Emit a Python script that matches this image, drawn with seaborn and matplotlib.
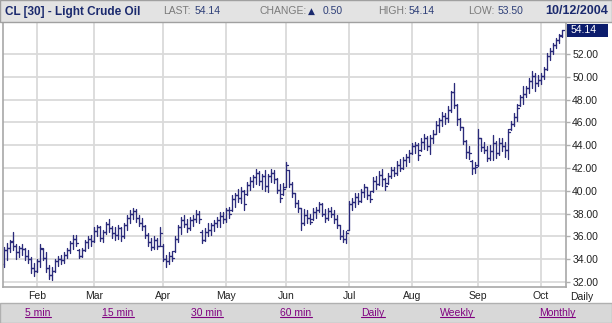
import numpy as np
import pandas as pd
import matplotlib
matplotlib.use("Agg")
import matplotlib.pyplot as plt
import seaborn as sns
from matplotlib.patches import Rectangle
from matplotlib.lines import Line2D

# ---------------- data (daily OHLC, mid-Jan .. 12 Oct 2004) ----------------
opens = [
    33.6, 34.8, 35.0, 35.6, 35.2, 34.6, 35.0, 34.9, 34.3, 34.0, 33.2,
    33.0, 33.8, 34.9, 34.1, 33.2, 32.6, 33.0, 33.8, 34.0, 33.9, 34.4, 34.8, 35.4, 35.8, 34.8, 34.3, 34.8, 35.5, 35.8,
    35.6, 36.5, 36.8, 35.9, 36.4, 37.1, 36.7, 36.3, 36.1, 36.7, 36.0, 37.0, 37.6, 38.0, 38.2, 37.6, 37.2, 36.9, 36.1, 35.5, 35.1, 35.7, 35.2,
    35.2, 34.0, 33.8, 34.3, 34.7, 35.8, 36.8, 37.4, 37.1, 36.7, 37.4, 37.5, 38.0, 36.4, 35.7, 36.4, 36.6, 37.0, 37.2, 37.4, 37.8,
    37.5, 38.3, 38.3, 39.3, 39.6, 39.4, 40.0, 39.7, 40.5, 40.9, 41.2, 41.6, 40.9, 41.3, 40.4, 41.3, 41.6, 41.0, 40.1, 39.7,
    40.3, 41.8, 40.6, 39.8, 38.9, 38.5, 37.2, 37.9, 37.6, 37.5, 38.1, 38.3, 38.8, 38.0, 37.6, 38.2, 38.0, 37.5, 37.0, 36.0, 35.8,
    36.6, 38.8, 39.0, 39.5, 39.1, 39.9, 40.3, 39.6, 40.0, 40.9, 40.6, 41.4, 41.0, 40.7, 41.3, 41.8, 41.6, 42.3, 42.0, 42.7, 43.0,
    43.3, 43.9, 44.0, 43.6, 44.3, 44.6, 43.9, 44.6, 45.0, 45.8, 46.2, 46.6, 46.4, 47.1, 48.7, 47.5, 46.3, 45.6, 44.4, 43.4, 42.6, 42.0,
    42.3, 44.6, 43.8, 43.6, 42.9, 43.5, 44.2, 43.3, 44.2, 43.9, 43.6, 45.4, 45.9, 46.5, 47.5, 48.2, 48.5, 49.0, 49.6, 50.1, 49.5,
    49.7, 50.1, 50.7, 51.8, 52.3, 52.8, 53.2, 53.6,
]
highs = [
    35.1, 35.4, 35.7, 36.4, 35.3, 35.2, 35.3, 35.0, 34.8, 34.2, 33.7,
    34.0, 35.3, 35.0, 34.6, 33.5, 33.3, 34.0, 34.3, 34.4, 34.6, 35.0, 35.6, 36.1, 36.1, 34.9, 35.0, 35.7, 36.0, 36.1,
    36.8, 37.0, 36.9, 36.6, 37.3, 37.5, 36.9, 36.8, 37.0, 36.8, 37.2, 37.9, 38.3, 38.5, 38.4, 37.9, 37.6, 37.0, 36.3, 35.9, 36.0, 35.9, 36.8,
    35.3, 34.4, 34.6, 34.7, 36.0, 37.0, 37.7, 37.9, 37.5, 37.7, 37.9, 38.3, 38.2, 36.6, 36.7, 37.2, 37.2, 37.4, 37.7, 38.1, 38.1,
    38.5, 38.6, 39.6, 39.8, 40.2, 40.3, 40.1, 40.8, 41.2, 41.4, 41.9, 41.7, 41.5, 41.8, 41.5, 41.9, 41.8, 41.1, 40.6, 40.7,
    42.5, 41.8, 40.8, 39.8, 39.2, 38.5, 38.4, 38.3, 38.0, 38.5, 38.6, 39.0, 38.9, 38.4, 38.5, 38.6, 38.3, 37.9, 37.0, 36.6, 36.5,
    39.1, 39.4, 39.8, 39.8, 40.2, 40.6, 40.3, 40.0, 41.2, 41.3, 41.7, 41.9, 41.1, 41.6, 42.1, 42.1, 42.6, 42.8, 43.0, 43.2, 43.6,
    44.2, 44.3, 44.2, 44.6, 45.0, 44.8, 44.9, 45.3, 46.1, 46.4, 46.9, 46.8, 47.4, 48.8, 49.5, 47.6, 46.4, 45.6, 44.5, 43.9, 42.7, 42.5,
    45.4, 44.6, 44.3, 43.9, 44.0, 44.9, 44.4, 44.6, 44.6, 44.3, 45.4, 46.1, 46.8, 47.6, 48.4, 49.2, 49.2, 49.9, 50.5, 50.3, 50.2,
    50.3, 50.9, 52.1, 52.5, 53.0, 53.4, 53.8, 54.14,
]
lows = [
    33.3, 33.9, 34.6, 34.8, 34.0, 34.2, 34.4, 33.9, 33.7, 32.8, 32.5,
    32.9, 33.3, 33.9, 32.9, 32.3, 32.2, 32.9, 33.4, 33.6, 33.7, 34.1, 34.5, 34.9, 35.2, 34.1, 34.2, 34.7, 35.0, 35.2,
    35.5, 36.0, 35.6, 35.5, 36.2, 36.4, 35.9, 35.7, 35.8, 35.6, 35.9, 36.6, 37.2, 37.5, 37.3, 36.9, 36.6, 35.9, 35.2, 34.8, 34.9, 34.9, 35.2,
    33.8, 33.3, 33.6, 33.8, 34.6, 35.5, 36.2, 36.8, 36.4, 36.6, 36.9, 37.3, 37.2, 35.4, 35.6, 36.0, 36.1, 36.5, 36.8, 36.8, 37.2,
    37.3, 37.6, 38.2, 38.6, 39.0, 38.9, 38.3, 39.6, 40.1, 40.3, 40.6, 40.5, 40.2, 40.0, 39.9, 40.8, 40.7, 39.8, 39.0, 39.6,
    40.3, 40.3, 39.5, 38.6, 38.1, 36.6, 37.0, 37.2, 37.1, 37.4, 37.6, 38.1, 37.8, 37.3, 37.4, 37.7, 37.2, 36.7, 35.8, 35.5, 35.4,
    36.6, 38.3, 38.6, 38.8, 39.0, 39.5, 39.3, 39.0, 39.9, 40.2, 40.5, 40.4, 40.1, 40.6, 41.1, 41.3, 41.4, 41.7, 41.9, 42.2, 42.5,
    43.2, 43.3, 42.7, 43.5, 43.7, 43.6, 43.2, 44.2, 45.0, 45.2, 45.7, 45.9, 46.0, 46.9, 47.3, 45.8, 45.3, 44.1, 42.9, 42.8, 41.5, 41.6,
    42.2, 43.5, 43.3, 42.6, 42.7, 42.7, 42.9, 43.1, 43.5, 43.0, 42.8, 45.3, 45.7, 46.1, 47.4, 47.6, 48.2, 48.6, 49.0, 48.8, 49.2,
    49.4, 49.8, 50.6, 51.5, 52.0, 52.5, 53.0, 53.5,
]
closes = [
    34.8, 35.0, 35.5, 35.2, 34.6, 35.0, 34.9, 34.3, 34.0, 33.2, 33.0,
    33.8, 35.0, 34.1, 33.2, 32.6, 33.0, 33.8, 34.0, 33.9, 34.4, 34.8, 35.4, 35.8, 35.4, 34.3, 34.8, 35.5, 35.8, 35.6,
    36.5, 36.8, 35.9, 36.4, 37.1, 36.7, 36.3, 36.1, 36.7, 36.0, 37.0, 37.6, 38.0, 38.2, 37.6, 37.2, 36.9, 36.1, 35.5, 35.1, 35.7, 35.2, 36.3,
    34.0, 33.8, 34.3, 34.1, 35.8, 36.8, 37.4, 37.1, 36.7, 37.4, 37.5, 38.0, 37.5, 35.7, 36.4, 36.6, 37.0, 37.2, 37.4, 37.8, 37.5,
    38.3, 38.0, 39.3, 39.6, 39.4, 40.0, 38.8, 40.5, 40.9, 41.2, 41.6, 40.9, 41.3, 40.4, 41.3, 41.6, 41.0, 40.1, 39.4, 40.2,
    42.3, 40.6, 39.8, 38.9, 38.5, 37.2, 37.9, 37.6, 37.3, 38.1, 38.3, 38.8, 38.0, 37.6, 38.2, 38.0, 37.5, 37.0, 36.0, 35.8, 36.3,
    38.8, 39.0, 39.5, 39.1, 39.9, 40.3, 39.6, 39.3, 40.9, 40.6, 41.4, 41.0, 40.4, 41.3, 41.8, 41.6, 42.3, 42.0, 42.7, 43.0, 43.3,
    43.9, 44.0, 43.1, 44.3, 44.6, 43.9, 44.6, 45.0, 45.8, 46.2, 46.6, 46.4, 47.1, 48.7, 47.5, 46.3, 45.6, 44.4, 43.4, 43.3, 42.0, 42.1,
    44.6, 43.8, 43.6, 42.9, 43.5, 44.2, 43.3, 44.2, 43.9, 43.6, 45.2, 45.9, 46.5, 47.3, 48.2, 48.5, 49.0, 49.6, 50.1, 49.5, 49.7,
    50.1, 50.7, 51.8, 52.3, 52.8, 53.2, 53.64, 54.14,
]
month_labels = ["Feb", "Mar", "Apr", "May", "Jun", "Jul", "Aug", "Sep", "Oct"]
month_starts = [11, 30, 53, 74, 94, 115, 136, 158, 179]
price_ticks = [32, 34, 36, 38, 40, 42, 44, 46, 48, 50, 52]
link_labels = ["5 min", "15 min", "30 min", "60 min", "Daily", "Weekly", "Monthly"]
link_centers = [38, 118, 207, 296, 373, 457, 557]
last_price = 54.14

assert len(opens) == len(highs) == len(lows) == len(closes)

# ---------------- styling ----------------
sns.set_theme(style="white")
plt.rcParams['font.family'] = ['Liberation Sans', 'DejaVu Sans']

W, H = 612, 323
BAR = '#2a2a7a'
NAVY = '#1b2a6e'
GRID = '#dadada'

fig = plt.figure(figsize=(W / 100, H / 100), dpi=100)
fig.patch.set_facecolor('white')

def fx(x):
    return x / W

def fy(y):
    return 1 - y / H

ax = fig.add_axes([fx(3), fy(287), (566 - 3) / W, (287 - 22) / H])

# long-form segments for OHLC bars
tick = 0.55
rows = []
seg = 0
for i, (o, h, l, c) in enumerate(zip(opens, highs, lows, closes)):
    rows += [(seg, i, l), (seg, i, h)]; seg += 1
    rows += [(seg, i - tick, o), (seg, i, o)]; seg += 1
    rows += [(seg, i, c), (seg, i + tick, c)]; seg += 1
segdf = pd.DataFrame(rows, columns=['seg', 'x', 'y'])

sns.lineplot(data=segdf, x='x', y='y', units='seg', estimator=None, sort=False,
             color=BAR, linewidth=0.95, ax=ax, legend=False)

ax.set_xlim(-0.33, 187.33)
ax.set_ylim(31.56, 54.81)
ax.set_xlabel('')
ax.set_ylabel('')
ax.set_xticks(month_starts)
ax.set_xticklabels(month_labels)
ax.yaxis.tick_right()
ax.set_yticks(price_ticks)
ax.set_yticklabels([f"{p:.2f}" for p in price_ticks])
ax.grid(True, color=GRID, linewidth=1.3)
ax.set_axisbelow(True)
ax.tick_params(axis='x', length=0, pad=3, labelsize=7.5, labelcolor='#222222')
ax.tick_params(axis='y', right=True, left=False, length=3, width=1, color='#b0b0b0',
               pad=1.5, labelsize=7.5, labelcolor='#222222')
for s in ['left', 'right', 'bottom']:
    ax.spines[s].set_visible(True)
    ax.spines[s].set_color('#a8a8a8')
    ax.spines[s].set_linewidth(1.2)
ax.spines['top'].set_visible(False)

# last price box on the right axis
ybox = 22 + (54.81 - last_price) / (54.81 - 31.56) * 265
fig.add_artist(Rectangle((fx(567), fy(ybox + 7)), 41 / W, 13 / H,
                         transform=fig.transFigure, facecolor='#0c1c6c', edgecolor='none'))
fig.text(fx(571), fy(ybox + 0.5), f"{last_price:.2f}", color='white', fontsize=7.5,
         va='center', ha='left')

fig.text(fx(570), fy(297), "Daily", fontsize=7.5, color='#222222', va='center', ha='left')

# header bar
fig.add_artist(Rectangle((0, fy(22)), 1, 22 / H, transform=fig.transFigure,
                         facecolor='#e3e3e3', edgecolor='#a0a0a0', linewidth=1.0))
yh = fy(11.5)
fig.text(fx(5), yh, "CL [30] - Light Crude Oil", fontsize=8.5, fontweight='bold',
         color=NAVY, va='center', ha='left')
fig.text(fx(163), yh, "LAST:", fontsize=7.5, color='#7a7a7a', va='center')
fig.text(fx(195), yh, "54.14", fontsize=7.5, color='#2e3f78', va='center')
fig.text(fx(259), yh, "CHANGE:", fontsize=7.5, color='#7a7a7a', va='center')
fig.text(fx(308), yh, "\u25b2", fontsize=6.5, color=NAVY, va='center',
         family=['DejaVu Sans'])
fig.text(fx(323), yh, "0.50", fontsize=7.5, color='#2e3f78', va='center')
fig.text(fx(378), yh, "HIGH:", fontsize=7.5, color='#7a7a7a', va='center')
fig.text(fx(409), yh, "54.14", fontsize=7.5, color='#2e3f78', va='center')
fig.text(fx(468), yh, "LOW:", fontsize=7.5, color='#7a7a7a', va='center')
fig.text(fx(498), yh, "53.50", fontsize=7.5, color='#2e3f78', va='center')
fig.text(fx(608), yh, "10/12/2004", fontsize=9, fontweight='bold', color=NAVY,
         va='center', ha='right')

# bottom link bar
fig.add_artist(Rectangle((0, 0), 1, 20 / H, transform=fig.transFigure,
                         facecolor='#d8d8d8', edgecolor='#b0b0b0', linewidth=1.0))
link_texts = []
for lab, cx in zip(link_labels, link_centers):
    t = fig.text(fx(cx), fy(313), lab, fontsize=7.5, color='#800080', va='center', ha='center')
    link_texts.append(t)

fig.canvas.draw()
r = fig.canvas.get_renderer()
for t in link_texts:
    bb = t.get_window_extent(r)
    yl = (bb.y0 + 1.0) / H
    fig.add_artist(Line2D([bb.x0 / W, bb.x1 / W], [yl, yl], transform=fig.transFigure,
                          color='#800080', linewidth=0.8))

fig.savefig('out.png', dpi=100)
